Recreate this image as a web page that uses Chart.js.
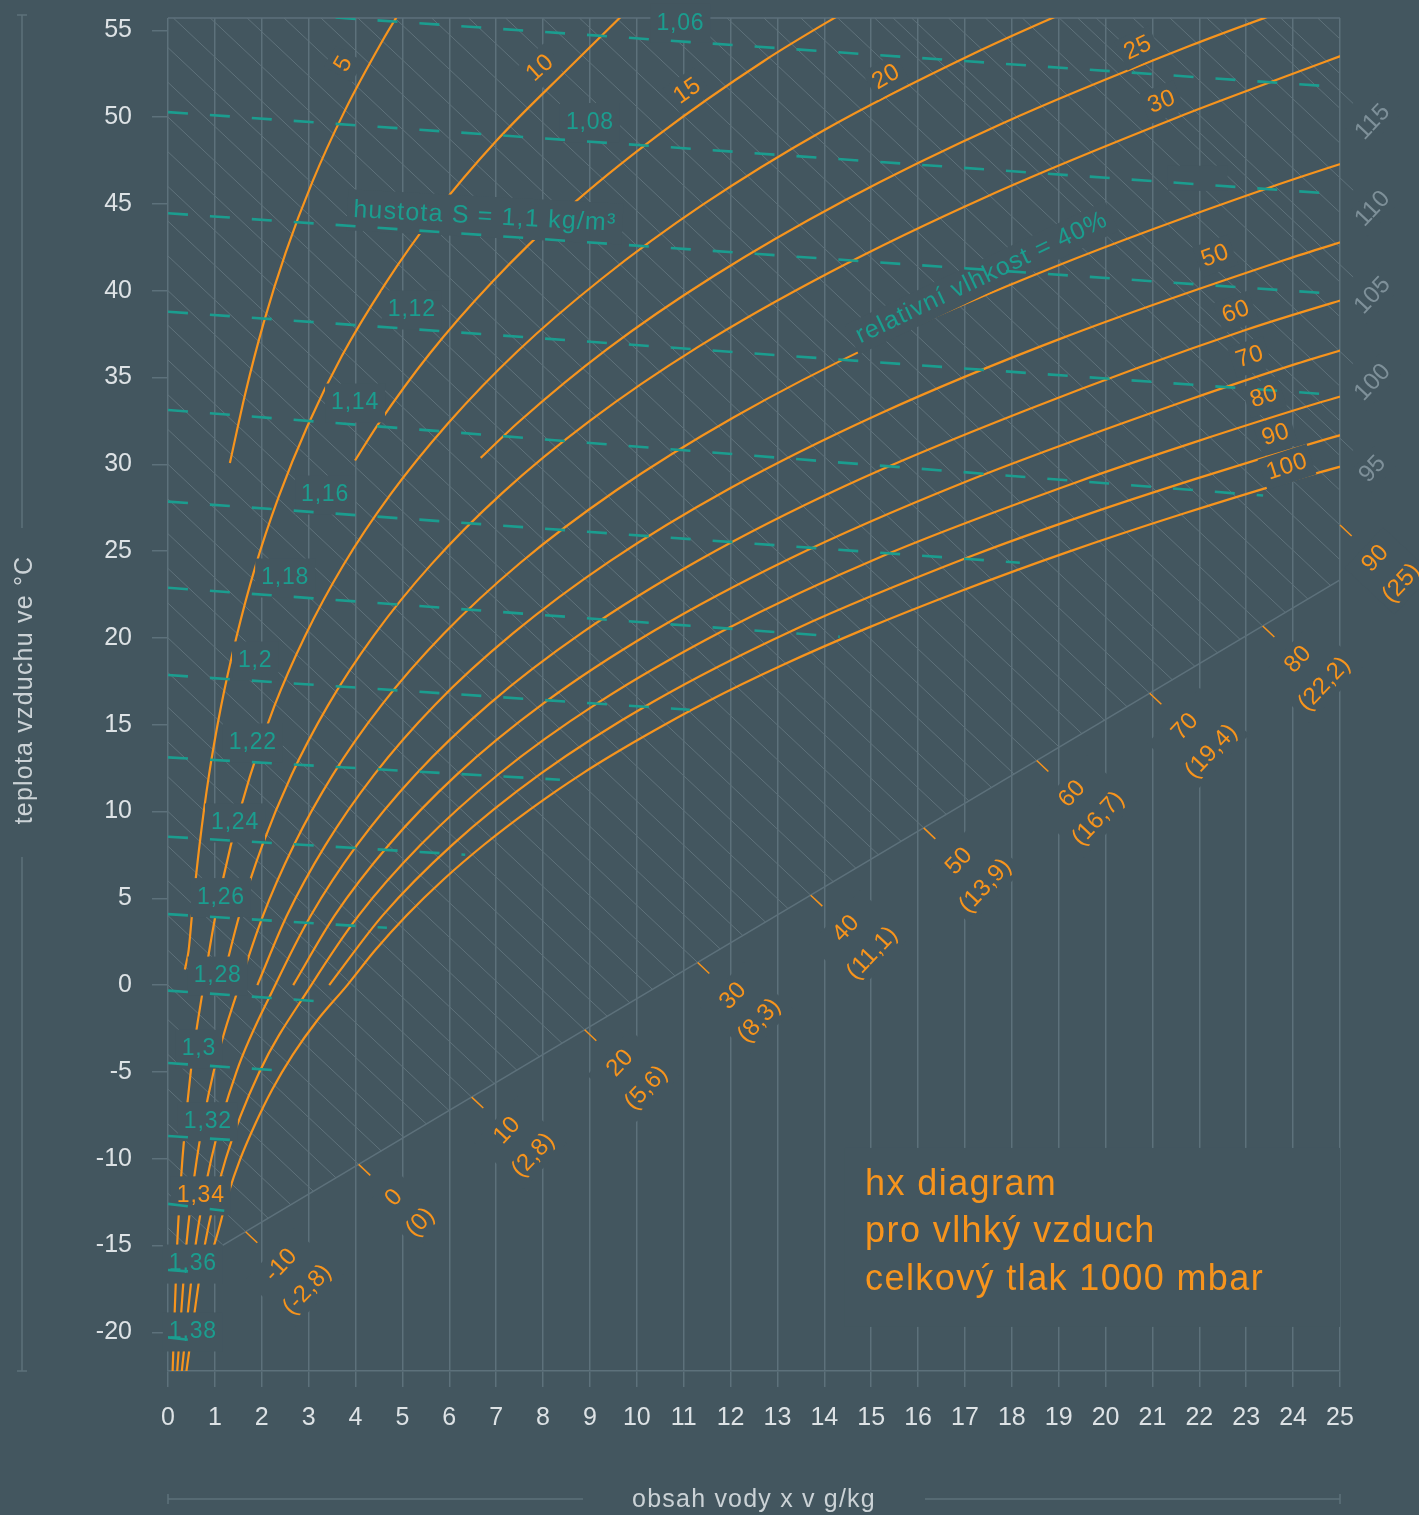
<!DOCTYPE html>
<html lang="cs">
<head>
<meta charset="utf-8">
<title>hx diagram pro vlhký vzduch</title>
<script src="https://cdn.jsdelivr.net/npm/chart.js@4.4.1/dist/chart.umd.min.js"></script>
<style>
html,body{margin:0;padding:0;background:#43565f;}
canvas{display:block;}
</style>
</head>
<body>
<canvas id="hx" width="1419" height="1515"></canvas>
<script>
// ---------- axes ----------
const xTicks = [0,1,2,3,4,5,6,7,8,9,10,11,12,13,14,15,16,17,18,19,20,21,22,23,24,25];
const yTicks = [-20,-15,-10,-5,0,5,10,15,20,25,30,35,40,45,50,55];
const X_MIN = 0, X_MAX = 25, Y_MIN = -22.23, Y_MAX = 55.71;

// ---------- relative humidity curves, points [x g/kg, t °C] ----------
const rhLevels = [5,10,15,20,25,30,40,50,60,70,80,90,100];
const rh5  = [[1.32,30.07],[1.65,34.1],[2.04,38.15],[2.51,42.2],[3.08,46.27],[3.77,50.36],[4.59,54.47],[5.05,56.54]];
const rh10 = [[0.36,0.9],[0.44,2.0],[0.51,4.0],[0.67,8.01],[0.87,12.02],[1.13,16.03],[1.46,20.05],[1.86,24.08],[2.36,28.12],[2.97,32.18],[3.71,36.25],[4.62,40.34],[5.7,44.47],[7.0,48.62],[8.55,52.83],[10.15,57.08]];
const rh15 = [[3.99,30.22],[4.47,32.26],[5.58,36.37],[6.92,40.52],[8.51,44.7],[10.44,48.94],[12.72,53.25],[14.72,56.53]];
const rh20 = [[0.095,-22.5],[0.195,-15.0],[0.308,-10.0],[0.485,-5.0],[0.761,0],[1.013,4.01],[1.337,8.02],[1.749,12.04],[2.268,16.07],[2.924,20.11],[3.735,24.17],[4.742,28.25],[5.97,32.35],[7.45,36.5],[9.25,40.69],[11.4,44.94],[14.0,49.26],[17.2,53.68],[20.0,57.06]];
const rh25 = [[6.67,30.37],[7.48,32.44],[9.36,36.62],[11.65,40.86],[14.42,45.18],[17.76,49.59],[21.8,54.11],[24.1,56.42]];
const rh30 = [[1.142,0],[1.521,4.01],[2.009,8.03],[2.627,12.06],[3.41,16.1],[4.396,20.16],[5.621,24.25],[7.14,28.37],[9.011,32.53],[11.3,36.75],[14.1,41.04],[17.46,45.42],[21.5,49.95],[23.85,52.35],[25.19,53.7]];
const rh40 = [[0.189,-22.51],[0.39,-15.01],[0.615,-10.01],[0.972,-5.01],[1.524,0],[2.029,4.02],[2.681,8.04],[3.508,12.08],[4.555,16.13],[5.876,20.22],[7.517,24.33],[9.556,28.49],[12.07,32.71],[15.15,37.01],[18.93,41.4],[23.5,45.95],[26.16,48.3]];
const rh50 = [[1.906,0],[2.539,4.02],[3.355,8.05],[4.391,12.1],[5.703,16.17],[7.364,20.27],[9.427,24.42],[11.99,28.62],[15.17,32.9],[19.07,37.27],[23.85,41.8],[25.2,42.95]];
const rh60 = [[0.284,-22.51],[0.585,-15.02],[0.923,-10.02],[1.459,-5.01],[2.288,0],[3.05,4.02],[4.03,8.06],[5.277,12.12],[6.855,16.2],[8.85,20.33],[11.34,24.5],[14.44,28.75],[18.29,33.1],[23.0,37.75],[25.76,40.05]];
const rh70 = [[2.671,0],[3.56,4.03],[4.709,8.07],[6.166,12.14],[8.016,16.24],[10.35,20.38],[13.28,24.59],[16.91,28.88],[21.44,33.4],[24.08,35.8],[25.5,36.95]];
const rh80 = [[0.378,-22.52],[0.781,-15.02],[1.231,-10.02],[1.947,-5.02],[3.056,0],[4.073,4.03],[5.39,8.08],[7.057,12.16],[9.177,16.27],[11.86,20.44],[15.21,24.68],[19.41,29.0],[21.87,31.25],[24.62,33.6],[26.1,34.75]];
const rh90 = [[3.439,0],[4.585,4.03],[6.07,8.09],[7.95,12.18],[10.34,16.31],[13.37,20.49],[17.18,24.76],[19.41,26.93],[21.92,29.16],[24.71,31.45],[26.24,32.6]];
const rh100 = [[0.9,-15.45],[0.976,-15.03],[1.285,-12.03],[1.54,-10.03],[1.856,-8.03],[2.22,-6.03],[2.66,-4.02],[3.19,-2.01],[3.825,0],[4.422,2.02],[5.098,4.04],[5.871,6.07],[6.747,8.1],[7.734,10.14],[8.845,12.2],[10.11,14.26],[11.51,16.34],[13.11,18.44],[14.9,20.55],[16.9,22.69],[19.14,24.9],[21.65,27.15],[24.45,29.45],[25.96,30.55]];
const rhCurves = [rh5, rh10, rh15, rh20, rh25, rh30, rh40, rh50, rh60, rh70, rh80, rh90, rh100];
const rhLabelText = ['5','10','15','20','25','30','50','60','70','80','90','100'];

// ---------- density lines (kg/m³) ----------
const densityNames = ['1,06','1,08','1,1','1,12','1,14','1,16','1,18','1,2','1,22','1,24','1,26','1,28','1,3','1,32','1,34','1,36','1,38'];
const densityStart = [[0,56.41],[0,50.29],[0,44.46],[0,38.79],[0,33.13],[0,27.85],[0,22.89],[0,17.86],[0,13.12],[0,8.55],[0,4.09],[0,-0.32],[0,-4.49],[0,-8.69],[0,-12.6],[0,-16.41],[0,-20.29]];
const densityEnd = [[25,51.73],[25,45.56],[25,39.8],[25,33.98],[23.36,28.2],[18.17,24.33],[14.33,20.07],[11.13,15.86],[8.36,11.83],[6.34,7.51],[4.67,3.3],[3.35,-0.96],[2.43,-4.93],[1.64,-8.97],[1.2,-13.0],[0.75,-16.55],[0.5,-20.45]];

// ---------- enthalpy (kJ/kg) ----------
const hFine = [-16,-14,-12,-10,-8,-6,-4,-2,0,2,4,6,8,10,12,14,16,18,20,22,24,26,28,30,32,34,36,38,40,42,44,46,48,50,52,54,56,58,60,62,64,66,68,70,72,74,76,78,80,82,84,86,88,90,92,94,96,98,100,102,104,106,108,110,112,114,116,118];
const hScaleTicks = [-10,0,10,20,30,40,50,60,70,80,90];
const hScaleKwh = ['(-2,8)','(0)','(2,8)','(5,6)','(8,3)','(11,1)','(13,9)','(16,7)','(19,4)','(22,2)','(25)'];
const hEdgeTicks = [95,100,105,110,115];
const hBase = [[0,-16.87],[25,23.34]];
const H_SLOPE = 2.54;      // drop of an enthalpy line in °C per g/kg
const H_EDGE_X = 25.28;    // labelled enthalpy lines run slightly past the frame

// ---------- label layout: [x, t, rotation°] ----------
const rhLabelLayout = [[3.75,53.06,-60],[7.94,52.83,-42],[11.08,51.5,-35],[15.32,52.31,-30],[20.69,53.98,-25],[21.2,50.87,-22],[22.34,42.0,-20],[22.78,38.77,-20],[23.08,36.18,-18],[23.38,33.88,-18],[23.63,31.69,-18],[23.87,29.85,-18]];
const densityLabelLayout = [[10.93,55.4,0],[9.0,49.69,0],[6.76,44.25,3],[5.2,38.89,0],[3.99,33.53,0],[3.35,28.23,0],[2.5,23.45,0],[1.86,18.67,0],[1.81,13.95,0],[1.43,9.34,0],[1.13,5.04,0],[1.06,0.52,0],[0.66,-3.69,0],[0.85,-7.87,0],[0.7,-12.14,0],[0.53,-16.07,0],[0.53,-19.98,0]];
const rhNoteLayout = [17.36,40.74,-25.5];
const titleLines = ['hx diagram','pro vlhký vzduch','celkový tlak 1000 mbar'];
const titleLayout = [14.87,-12.09,-14.8,-17.56];
const blankMasks = [[14.44,-9.38,25,-19.69],[21.33,47.2,22.6,45.75]];

// ---------- styling ----------
const FONT = "'Liberation Sans', Arial, Helvetica, sans-serif";
const C = {
  bg: '#43565f', grid: '#5d717b', fine: '#5f727b', orange: '#f7941d',
  teal: '#1b9d8f', tick: '#dde2e5', title: '#cbd2d6', edge: '#7e9099'
};
const fnt = (s) => s + 'px ' + FONT;

function P(chart, x, y) {
  return { x: chart.scales.x.getPixelForValue(x), y: chart.scales.y.getPixelForValue(y) };
}
function baseSlope() { return (hBase[1][1] - hBase[0][1]) / (hBase[1][0] - hBase[0][0]); }
function hBaseX(h) { return (h - hBase[0][1]) / (H_SLOPE + baseSlope()); }
function hSegment(h, xEnd) {
  let x0 = 0, y0 = h;
  if (y0 > Y_MAX) { x0 = (h - Y_MAX) / H_SLOPE; y0 = Y_MAX; }
  let x1 = Math.min(hBaseX(h), X_MAX);
  if (xEnd) x1 = xEnd;
  return [{ x: x0, y: y0 }, { x: x1, y: h - H_SLOPE * x1 }];
}
function hDir(chart) {
  const a = P(chart, 0, 0), b = P(chart, 1, -H_SLOPE);
  const dx = b.x - a.x, dy = b.y - a.y, n = Math.hypot(dx, dy);
  return { x: dx / n, y: dy / n };
}
function lineDs(points, color, width, order, extra) {
  return Object.assign({
    data: points, showLine: true, pointRadius: 0, pointHoverRadius: 0,
    borderColor: color, borderWidth: width, fill: false, tension: 0, order: order
  }, extra || {});
}
const toXY = (arr) => arr.map(p => ({ x: p[0], y: p[1] }));

// ---------- datasets ----------
const datasets = [];
hFine.forEach(h => {
  if (hEdgeTicks.includes(h) || h < hBase[0][1]) return;
  datasets.push(lineDs(hSegment(h, null), C.fine, 1, 3, { kind: 'h' }));
});
hEdgeTicks.forEach(h => {
  datasets.push(lineDs(hSegment(h, H_EDGE_X), C.fine, 1, 3,
    { kind: 'h', clip: { left: 0, top: 0, right: 30, bottom: 0 } }));
});
datasets.push(lineDs(toXY(hBase), C.grid, 1.5, 3, { kind: 'base' }));
rhCurves.forEach(c => {
  datasets.push(lineDs(toXY(c), C.orange, 2.2, 2, { kind: 'rh', cubicInterpolationMode: 'monotone' }));
});
densityStart.forEach((s, i) => {
  datasets.push(lineDs(toXY([s, densityEnd[i]]), C.teal, 2.6, 1,
    { kind: 'density', borderDash: [20, 22], borderCapStyle: 'butt' }));
});

// ---------- text items ----------
function textItems(chart) {
  const items = [];
  rhLabelText.forEach((t, i) => {
    const [x, y, r] = rhLabelLayout[i];
    const p = P(chart, x, y);
    items.push({ lines: [t], x: p.x, y: p.y, rot: r * Math.PI / 180, size: 24, ls: 0.5, color: C.orange, padX: 5, padY: 4 });
  });
  densityNames.forEach((t, i) => {
    const [x, y, r] = densityLabelLayout[i];
    const p = P(chart, x, y);
    const text = i === 2 ? 'hustota S = ' + t + ' kg/m³' : t;
    items.push({ lines: [text], x: p.x, y: p.y, rot: r * Math.PI / 180, size: i === 2 ? 25 : 23,
      ls: i === 2 ? 1.2 : 0.8, color: i === 14 ? C.orange : C.teal, padX: 6, padY: 8 });
  });
  {
    const p = P(chart, rhNoteLayout[0], rhNoteLayout[1]);
    items.push({ lines: ['relativní vlhkost = ' + rhLevels[6] + '%'], x: p.x, y: p.y,
      rot: rhNoteLayout[2] * Math.PI / 180, size: 25, ls: 1.1, color: C.teal, padX: 6, padY: 4 });
  }
  const d = hDir(chart);
  const rot = Math.atan2(-d.x, d.y);
  hScaleTicks.forEach((h, i) => {
    const xs = Math.min(hBaseX(h), X_MAX);
    const p = P(chart, xs, h - H_SLOPE * xs);
    const off = 66.8;
    items.push({ lines: [String(h), hScaleKwh[i]], x: p.x + d.x * off, y: p.y + d.y * off, rot: rot,
      size: 24, ls: 0.3, gap: 36, color: C.orange, padX: 6, padY: 4, tick: p });
  });
  hEdgeTicks.forEach(h => {
    const p = P(chart, H_EDGE_X, h - H_SLOPE * H_EDGE_X);
    items.push({ lines: [String(h)], x: p.x + d.x * 27, y: p.y + d.y * 27, rot: rot,
      size: 24, ls: 0.3, color: C.edge, padX: 4, padY: 3 });
  });
  return items;
}

function drawItem(ctx, it, maskOnly) {
  ctx.save();
  ctx.translate(it.x, it.y);
  ctx.rotate(it.rot || 0);
  ctx.font = fnt(it.size);
  ctx.letterSpacing = (it.ls || 0) + 'px';
  const n = it.lines.length, gap = it.gap || 0;
  if (maskOnly) {
    const w = Math.max.apply(null, it.lines.map(l => ctx.measureText(l).width)) + 2 * it.padX;
    const h = (n - 1) * gap + it.size + 2 * it.padY;
    ctx.fillStyle = C.bg;
    ctx.fillRect(-w / 2, -h / 2, w, h);
  } else {
    ctx.fillStyle = it.color;
    ctx.textAlign = 'center';
    ctx.textBaseline = 'middle';
    it.lines.forEach((l, k) => ctx.fillText(l, 0, (k - (n - 1) / 2) * gap));
  }
  ctx.restore();
}

const hxPlugin = {
  id: 'hxPlugin',
  beforeDraw(chart) {
    const ctx = chart.ctx;
    ctx.save();
    ctx.fillStyle = C.bg;
    ctx.fillRect(0, 0, chart.width, chart.height);
    ctx.restore();
  },
  beforeDatasetsDraw(chart) {
    chart.$masked = false;
    const a = chart.chartArea, ctx = chart.ctx;
    ctx.save();
    ctx.strokeStyle = C.grid;
    ctx.lineWidth = 1.5;
    ctx.beginPath();
    ctx.moveTo(a.left, a.top);
    ctx.lineTo(a.right, a.top);
    ctx.stroke();
    ctx.restore();
  },
  beforeDatasetDraw(chart, args) {
    const ds = chart.data.datasets[args.index];
    if (ds.kind !== 'density' || chart.$masked) return;
    chart.$masked = true;
    const ctx = chart.ctx;
    textItems(chart).forEach(it => drawItem(ctx, it, true));
    ctx.save();
    ctx.fillStyle = C.bg;
    blankMasks.forEach(m => {
      const a = P(chart, m[0], m[1]), b = P(chart, m[2], m[3]);
      ctx.fillRect(a.x, a.y, b.x - a.x, b.y - a.y);
    });
    ctx.restore();
  },
  afterDatasetsDraw(chart) {
    const ctx = chart.ctx;
    const d = hDir(chart);
    const items = textItems(chart);
    ctx.save();
    ctx.strokeStyle = C.orange;
    ctx.lineWidth = 1.5;
    items.forEach(it => {
      if (!it.tick) return;
      ctx.beginPath();
      ctx.moveTo(it.tick.x, it.tick.y);
      ctx.lineTo(it.tick.x + d.x * 16, it.tick.y + d.y * 16);
      ctx.stroke();
    });
    ctx.restore();
    items.forEach(it => drawItem(ctx, it, false));
    // caption block
    ctx.save();
    ctx.font = fnt(36);
    ctx.letterSpacing = '1.4px';
    ctx.fillStyle = C.orange;
    ctx.textAlign = 'left';
    ctx.textBaseline = 'alphabetic';
    titleLines.forEach((l, i) => {
      const p = P(chart, titleLayout[0], titleLayout[i + 1]);
      ctx.fillText(l, p.x, p.y);
    });
    ctx.restore();
  },
  afterDraw(chart) {
    const ctx = chart.ctx, a = chart.chartArea;
    ctx.save();
    ctx.strokeStyle = C.grid;
    ctx.lineWidth = 1.5;
    // y axis title rule
    const lx = 22;
    ctx.beginPath();
    ctx.moveTo(lx, 15); ctx.lineTo(lx, 528);
    ctx.moveTo(lx, 857); ctx.lineTo(lx, a.bottom);
    ctx.moveTo(lx - 5, 15); ctx.lineTo(lx + 5, 15);
    ctx.moveTo(lx - 5, a.bottom); ctx.lineTo(lx + 5, a.bottom);
    // x axis title rule
    const ly = 1499;
    ctx.moveTo(a.left, ly); ctx.lineTo(583, ly);
    ctx.moveTo(925, ly); ctx.lineTo(a.right, ly);
    ctx.moveTo(a.left, ly - 5); ctx.lineTo(a.left, ly + 5);
    ctx.moveTo(a.right, ly - 5); ctx.lineTo(a.right, ly + 5);
    ctx.stroke();
    ctx.fillStyle = C.title;
    ctx.font = fnt(25);
    ctx.letterSpacing = '1.2px';
    ctx.textAlign = 'center';
    ctx.textBaseline = 'middle';
    ctx.fillText('obsah vody x v g/kg', 754, 1500);
    ctx.translate(25, 690);
    ctx.rotate(-Math.PI / 2);
    ctx.fillText('teplota vzduchu ve °C', 0, 0);
    ctx.restore();
  }
};

new Chart(document.getElementById('hx'), {
  type: 'scatter',
  data: { datasets: datasets },
  plugins: [hxPlugin],
  options: {
    responsive: false,
    animation: false,
    devicePixelRatio: 1,
    events: [],
    layout: { padding: { left: 0, right: 79, top: 18, bottom: 0 } },
    plugins: { legend: { display: false }, tooltip: { enabled: false } },
    scales: {
      x: {
        type: 'linear', min: X_MIN, max: X_MAX,
        afterBuildTicks: s => { s.ticks = xTicks.map(v => ({ value: v })); },
        afterFit: s => { s.height = 144; s.paddingLeft = 0; s.paddingRight = 0; },
        grid: { color: C.grid, lineWidth: 1.5, drawTicks: true, tickLength: 16, tickColor: C.grid },
        border: { display: true, color: C.grid, width: 1.5 },
        ticks: { color: C.tick, font: { family: FONT, size: 25 }, padding: 16, maxRotation: 0, autoSkip: false }
      },
      y: {
        type: 'linear', min: Y_MIN, max: Y_MAX,
        afterBuildTicks: s => { s.ticks = yTicks.map(v => ({ value: v })); },
        afterFit: s => { s.width = 168; s.paddingTop = 0; s.paddingBottom = 0; },
        grid: { drawOnChartArea: false, drawTicks: true, tickLength: 16, color: C.grid, lineWidth: 1.5 },
        border: { display: false },
        ticks: { color: C.tick, font: { family: FONT, size: 25 }, padding: 20, autoSkip: false }
      }
    }
  }
});
</script>
</body>
</html>
